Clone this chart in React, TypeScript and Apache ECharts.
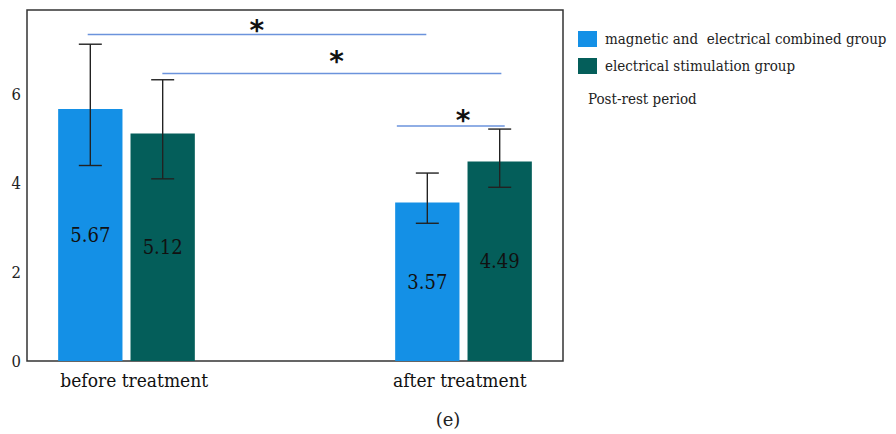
import React, { useEffect, useRef } from "react";
import * as echarts from "echarts";

// ---- data ----
const categories = ["before treatment", "after treatment"];
const seriesNames = ["magnetic and  electrical combined group", "electrical stimulation group"];
const combinedMeans = [5.67, 3.57];
const combinedLow = [4.4, 3.1];
const combinedHigh = [7.13, 4.23];
const stimMeans = [5.12, 4.49];
const stimLow = [4.1, 3.91];
const stimHigh = [6.33, 5.22];
// significance brackets (x in axis units, levels in y units)
const bracketStart = [0.906, 2.02, 5.52];
const bracketEnd = [5.96, 7.08, 7.13];
const bracketLevel = [7.35, 6.47, 5.29];
const starX = [3.43, 4.62, 6.51];
const starLevel = [7.59, 6.89, 5.58];
const yTicks = [0, 2, 4, 6];

// ---- layout (axis units) ----
const X_MAX = 8;
const GROUP_CENTER = [1.485, 6.515];
const LABEL_POS = [1.6, 6.46];
const BAR_OFFSET = 0.54;
const BAR_W = 0.96;
const COLORS = ["#1490e6", "#045e5a"];
const SERIF = "DejaVu Serif";
const SERIF_C = "DejaVu Serif Condensed";

function barX(seriesIdx: number, catIdx: number) {
  return GROUP_CENTER[catIdx] + (seriesIdx === 0 ? -BAR_OFFSET : BAR_OFFSET);
}

function makeBarSeries(idx: number, means: number[], lows: number[], highs: number[]) {
  const color = COLORS[idx];
  return {
    type: "custom",
    name: seriesNames[idx],
    itemStyle: { color },
    encode: { x: 0, y: 1 },
    data: means.map((m, i) => [barX(idx, i), m, lows[i], highs[i]]),
    renderItem: (params: any, api: any) => {
      const x = api.value(0);
      const v = api.value(1);
      const lo = api.value(2);
      const hi = api.value(3);
      const tl = api.coord([x - BAR_W / 2, v]);
      const br = api.coord([x + BAR_W / 2, 0]);
      const pLo = api.coord([x, lo]);
      const pHi = api.coord([x, hi]);
      const mid = api.coord([x, v / 2]);
      const cap = 11.5;
      const lineStyle = { stroke: "#222", lineWidth: 1.4 };
      return {
        type: "group",
        children: [
          {
            type: "rect",
            shape: { x: tl[0], y: tl[1], width: br[0] - tl[0], height: br[1] - tl[1] },
            style: { fill: color },
          },
          { type: "line", shape: { x1: pLo[0], y1: pHi[1], x2: pLo[0], y2: pLo[1] }, style: lineStyle },
          { type: "line", shape: { x1: pHi[0] - cap, y1: pHi[1], x2: pHi[0] + cap, y2: pHi[1] }, style: lineStyle },
          { type: "line", shape: { x1: pLo[0] - cap, y1: pLo[1], x2: pLo[0] + cap, y2: pLo[1] }, style: lineStyle },
          {
            type: "text",
            x: mid[0],
            y: mid[1],
            style: {
              text: v.toFixed(2),
              fill: "#111",
              fontSize: 20,
              fontFamily: SERIF_C,
              align: "center",
              verticalAlign: "middle",
            },
          },
        ],
      };
    },
  };
}

export default function App() {
  const ref = useRef<HTMLDivElement>(null);
  useEffect(() => {
    if (!ref.current) return;
    const chart = echarts.init(ref.current, undefined, { renderer: "svg" });
    chart.setOption({
      animation: false,
      backgroundColor: "#fff",
      grid: {
        left: 27,
        right: 333,
        top: 10,
        bottom: 73,
        show: true,
        borderColor: "#333",
        borderWidth: 1.5,
        backgroundColor: "transparent",
      },
      xAxis: {
        type: "value",
        min: 0,
        max: X_MAX,
        axisLine: { show: false },
        axisTick: { show: false },
        splitLine: { show: false },
        axisLabel: {
          customValues: LABEL_POS,
          formatter: (v: number) => (v < X_MAX / 2 ? categories[0] : categories[1]),
          fontSize: 19,
          fontFamily: SERIF_C,
          color: "#111",
          margin: 9,
        },
      },
      yAxis: {
        type: "value",
        min: 0,
        max: 7.9,
        interval: 2,
        axisLine: { show: false },
        axisTick: { show: false },
        splitLine: { show: false },
        axisLabel: {
          formatter: (v: number) => (yTicks.includes(v) ? String(v) : ""),
          fontSize: 16.5,
          fontFamily: SERIF_C,
          color: "#222",
          margin: 6,
        },
      },
      legend: {
        orient: "vertical",
        left: 578,
        top: 31,
        padding: 0,
        icon: "rect",
        itemWidth: 19,
        itemHeight: 16,
        itemGap: 11,
        data: seriesNames.map((n, i) => ({ name: n, itemStyle: { color: COLORS[i] } })),
        textStyle: { fontSize: 15, fontFamily: SERIF_C, color: "#222", padding: [0, 0, 0, 3] },
        selectedMode: false,
      },
      graphic: [
        {
          type: "text",
          left: 588,
          top: 91,
          style: { text: "Post-rest period", fontSize: 15, fontFamily: SERIF_C, fill: "#222" },
        },
        {
          type: "text",
          left: "center",
          top: 410,
          style: { text: "(e)", fontSize: 18, fontFamily: SERIF, fill: "#222" },
        },
      ],
      series: [
        makeBarSeries(0, combinedMeans, combinedLow, combinedHigh),
        makeBarSeries(1, stimMeans, stimLow, stimHigh),
        {
          type: "custom",
          name: "significance",
          encode: { x: 0, y: 2 },
          data: bracketStart.map((s, i) => [s, bracketEnd[i], bracketLevel[i], starX[i], starLevel[i]]),
          renderItem: (params: any, api: any) => {
            const p1 = api.coord([api.value(0), api.value(2)]);
            const p2 = api.coord([api.value(1), api.value(2)]);
            const s = api.coord([api.value(3), api.value(4)]);
            return {
              type: "group",
              children: [
                {
                  type: "line",
                  shape: { x1: p1[0], y1: p1[1], x2: p2[0], y2: p2[1] },
                  style: { stroke: "#6b93dc", lineWidth: 1.6 },
                },
                {
                  type: "text",
                  x: s[0],
                  y: s[1] + 7,
                  style: {
                    text: "*",
                    fill: "#111",
                    fontSize: 28,
                    fontWeight: "bold",
                    fontFamily: "DejaVu Sans",
                    align: "center",
                    verticalAlign: "middle",
                  },
                },
              ],
            };
          },
        },
      ],
    });
    return () => chart.dispose();
  }, []);
  return <div ref={ref} style={{ position: "fixed", left: 0, top: 0, width: 896, height: 434 }} />;
}
